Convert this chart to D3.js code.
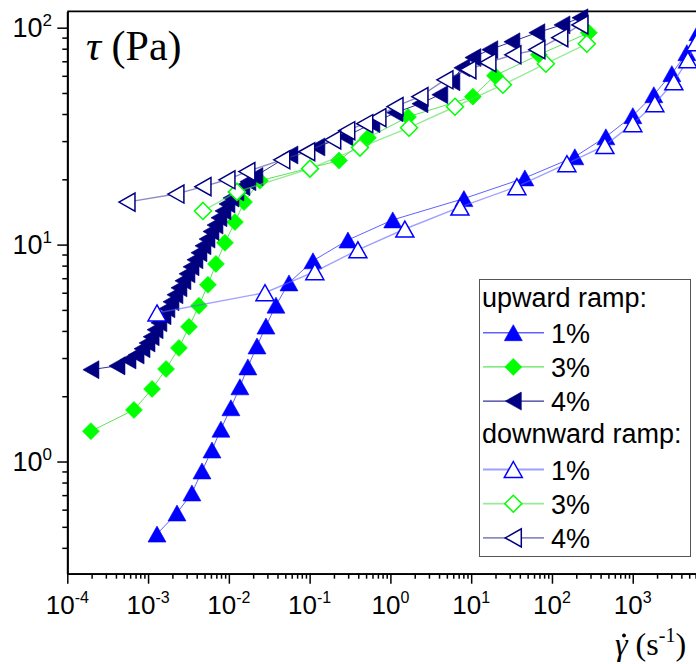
<!DOCTYPE html>
<html><head><meta charset="utf-8">
<script src="https://cdn.jsdelivr.net/npm/d3@7"></script>
<style>body{margin:0;background:#fff;}svg{display:block;}</style>
</head><body><svg id="c" width="696" height="664"></svg>
<script>
// ---------------- data ----------------
const xMajorTicks = [1e-4, 1e-3, 1e-2, 1e-1, 1, 10, 100, 1000];
const xTickExp = ["-4", "-3", "-2", "-1", "0", "1", "2", "3"];
const yMajorTicks = [1, 10, 100];
const yTickExp = ["0", "1", "2"];

const up1X = [1.29e-3, 2.28e-3, 3.49e-3, 4.65e-3, 6.18e-3, 7.98e-3, 1.06e-2, 1.37e-2, 1.72e-2, 2.23e-2, 2.88e-2, 3.83e-2, 5.55e-2, 0.110, 0.298, 1.07, 8.13, 46.2, 192, 465, 1003, 1824, 3050, 4680, 6400];
const up1Y = [0.463, 0.579, 0.716, 0.905, 1.13, 1.41, 1.77, 2.21, 2.73, 3.41, 4.21, 5.26, 6.66, 8.42, 10.5, 13.0, 16.3, 20.3, 25.4, 31.4, 39.3, 49.1, 61.4, 76.7, 94.8];

const up3X = [1.96e-4, 6.68e-4, 1.12e-3, 1.67e-3, 2.41e-3, 3.21e-3, 4.26e-3, 5.51e-3, 6.92e-3, 8.95e-3, 1.19e-2, 1.54e-2, 2.43e-2, 0.231, 0.527, 1.65, 10.5, 19.7, 68.9, 286];
const up3Y = [1.38, 1.73, 2.16, 2.67, 3.34, 4.18, 5.22, 6.53, 8.15, 10.2, 12.7, 15.7, 19.7, 24.4, 31.1, 38.8, 48.1, 60.1, 75.0, 94.8];

const up4X = [1.96e-4, 4.12e-4, 5.64e-4, 7.1e-4, 8.41e-4, 9.69e-4, 1.09e-3, 1.22e-3, 1.36e-3, 1.53e-3, 1.71e-3, 1.92e-3, 2.15e-3, 2.41e-3, 2.70e-3, 3.03e-3, 3.40e-3, 3.80e-3, 4.26e-3, 4.78e-3, 5.36e-3, 6.00e-3, 6.73e-3, 7.54e-3, 8.45e-3, 9.47e-3, 1.06e-2, 1.22e-2, 1.45e-2, 1.72e-2, 2.10e-2, 5.70e-2, 0.123, 0.273, 0.590, 1.14, 2.32, 4.09, 5.77, 7.66, 10.5, 17.0, 31.9, 65.0, 133, 222];
const up4Y = [2.65, 2.76, 2.94, 3.10, 3.31, 3.52, 3.76, 4.05, 4.36, 4.70, 5.06, 5.45, 5.87, 6.32, 6.81, 7.33, 7.90, 8.51, 9.17, 9.87, 10.6, 11.5, 12.3, 13.3, 14.3, 15.4, 16.4, 17.5, 18.5, 19.5, 20.6, 25.9, 28.2, 31.4, 36.1, 40.5, 44.6, 49.1, 56.3, 65.3, 72.8, 79.2, 86.1, 94.8, 103, 111];

const down1X = [6040, 4810, 3228, 1878, 1003, 452, 153, 36.8, 7.26, 1.51, 0.396, 0.116, 2.80e-2, 1.29e-3];
const down1Y = [85.3, 71.1, 56.3, 44.6, 36.1, 28.6, 23.6, 18.5, 14.9, 11.8, 9.46, 7.50, 6.00, 4.84];

const down3X = [270, 84.1, 24.7, 6.30, 1.70, 0.420, 0.101, 1.26e-2, 4.78e-3];
const down3Y = [84.3, 68.2, 54.6, 43.2, 34.6, 28.0, 22.4, 17.5, 14.3];

const down4X = [222, 125, 65.0, 32.8, 16.1, 9.1, 4.73, 2.32, 1.14, 0.70, 0.481, 0.288, 0.193, 0.092, 0.0452, 0.0167, 9.47e-3, 4.78e-3, 2.21e-3, 5.48e-4];
const down4Y = [103, 89.9, 79.2, 75.0, 69.0, 64.0, 57.5, 48.1, 43.3, 38.5, 36.1, 33.5, 30.4, 26.8, 24.6, 21.7, 19.9, 18.5, 17.1, 15.7];

const legendHeaders = ["upward ramp:", "downward ramp:"];
const seriesLabels = ["1%", "3%", "4%", "1%", "3%", "4%"];
const titleText = ["τ", " (Pa)"];
const xLabelText = ["γ", " (s", "-1", ")"];

// ---------------- styles ----------------
const series = [
  {x: up1X, y: up1Y, color: "#0000ff", line: "#3a3aff", lw: 1, lop: 0.8, shape: "up", open: false},
  {x: up3X, y: up3Y, color: "#00ff00", line: "#33dd33", lw: 1, lop: 0.8, shape: "diamond", open: false},
  {x: up4X, y: up4Y, color: "#000080", line: "#000080", lw: 1, lop: 0.8, shape: "left", open: false},
  {x: down1X, y: down1Y, color: "#0000ff", line: "#6060ff", lw: 1.4, lop: 0.6, shape: "up", open: true},
  {x: down3X, y: down3Y, color: "#00ff00", line: "#50e050", lw: 1.4, lop: 0.6, shape: "diamond", open: true},
  {x: down4X, y: down4Y, color: "#000080", line: "#40409a", lw: 1.4, lop: 0.6, shape: "left", open: true}
];

function shapePath(s) {
  if (s === "up") { const w = 18, h = 16; return `M0,${-h/2}L${w/2},${h/2}L${-w/2},${h/2}Z`; }
  if (s === "left") { const w = 16, h = 18; return `M${-w/2},0L${w/2},${-h/2}L${w/2},${h/2}Z`; }
  const d = 17; return `M0,${-d/2}L${d/2},0L0,${d/2}L${-d/2},0Z`;
}

const L = 67.3, R = 701, T = 11.3, B = 573.7;
const x = d3.scaleLog().domain([1e-4, 7000]).range([L, R]);
const y = d3.scaleLog().domain([0.304, 119]).range([B, T]);

const svg = d3.select("#c");
svg.append("rect").attr("width", 696).attr("height", 664).attr("fill", "#fff");

// frame
svg.append("path").attr("d", `M${L},${T}H${R}V${B}`).attr("fill", "none").attr("stroke", "#000").attr("stroke-width", 1.8);

const isMajor = v => Math.abs(Math.log10(v) - Math.round(Math.log10(v))) < 1e-9;
const xMinor = x.ticks().filter(v => !isMajor(v) && v >= 1e-4 && v <= 7000);
const yMinor = y.ticks().filter(v => !isMajor(v) && v >= 0.304 && v <= 119);

// x axis
const gx = svg.append("g").attr("transform", `translate(0,${B})`);
gx.append("g").call(d3.axisBottom(x).tickValues(xMinor).tickSize(5).tickSizeOuter(0).tickFormat(""));
gx.append("g").call(d3.axisBottom(x).tickValues(xMajorTicks).tickSize(10).tickSizeOuter(0).tickFormat(""));
gx.selectAll(".domain").attr("stroke", "#000").attr("stroke-width", 1.8);
gx.selectAll(".tick line").attr("stroke", "#000").attr("stroke-width", 1.5);

// y axis
const gy = svg.append("g").attr("transform", `translate(${L},0)`);
gy.append("g").call(d3.axisLeft(y).tickValues(yMinor).tickSize(5).tickSizeOuter(0).tickFormat(""));
gy.append("g").call(d3.axisLeft(y).tickValues(yMajorTicks).tickSize(10).tickSizeOuter(0).tickFormat(""));
gy.selectAll(".domain").attr("stroke", "#000").attr("stroke-width", 1.8);
gy.selectAll(".tick line").attr("stroke", "#000").attr("stroke-width", 1.5);

const sans = "Arial, 'Liberation Sans', sans-serif";
const serif = "'Times New Roman', 'Liberation Serif', serif";

// x tick labels
xMajorTicks.forEach((v, i) => {
  const t = svg.append("text").attr("x", x(v)).attr("y", 614).attr("text-anchor", "middle")
    .attr("font-family", sans).attr("font-size", 26).attr("fill", "#000");
  t.append("tspan").text("10");
  t.append("tspan").attr("dy", -11).attr("font-size", 16).text(xTickExp[i]);
});
// y tick labels
yMajorTicks.forEach((v, i) => {
  const t = svg.append("text").attr("x", 52).attr("y", y(v) + 9).attr("text-anchor", "end")
    .attr("font-family", sans).attr("font-size", 27).attr("fill", "#000");
  t.append("tspan").text("10");
  t.append("tspan").attr("dy", -11).attr("font-size", 17).text(yTickExp[i]);
});

// series
const line = d3.line().x(d => x(d[0])).y(d => y(d[1]));
series.forEach(s => {
  const pts = s.x.map((v, i) => [v, s.y[i]]);
  const g = svg.append("g");
  g.append("path").attr("d", line(pts)).attr("fill", "none").attr("stroke", s.line)
    .attr("stroke-width", s.lw).attr("stroke-opacity", s.lop);
  g.selectAll("path.m").data(pts).join("path").attr("class", "m")
    .attr("d", shapePath(s.shape))
    .attr("transform", d => `translate(${x(d[0])},${y(d[1])})`)
    .attr("fill", s.open ? "#fff" : s.color)
    .attr("stroke", s.color).attr("stroke-width", s.open ? 1.5 : 0.6);
});

// title
const tt = svg.append("text").attr("x", 86).attr("y", 60).attr("font-family", serif).attr("font-size", 42).attr("fill", "#000");
tt.append("tspan").attr("font-style", "italic").text(titleText[0]);
tt.append("tspan").text(titleText[1]);

// x label
const xl = svg.append("text").attr("x", 615).attr("y", 655).attr("font-family", serif).attr("font-size", 32).attr("fill", "#000");
xl.append("tspan").attr("font-style", "italic").text(xLabelText[0]);
xl.append("tspan").text(xLabelText[1]);
xl.append("tspan").attr("dy", -13).attr("font-size", 20).text(xLabelText[2]);
xl.append("tspan").attr("dy", 13).text(xLabelText[3]);
svg.append("circle").attr("cx", 624).attr("cy", 635.5).attr("r", 1.9).attr("fill", "#000");

// legend
const lg = svg.append("g");
lg.append("rect").attr("x", 479.5).attr("y", 279.5).attr("width", 211).attr("height", 277)
  .attr("fill", "#fff").attr("stroke", "#555").attr("stroke-width", 1);
const rowStep = 34.2, row0 = 298.5;
const rows = [{h: 0}, {s: 0}, {s: 1}, {s: 2}, {h: 1}, {s: 3}, {s: 4}, {s: 5}];
rows.forEach((r, i) => {
  const cy = row0 + i * rowStep;
  if (r.h !== undefined) {
    lg.append("text").attr("x", 482).attr("y", cy + 8).attr("font-family", sans).attr("font-size", 27)
      .attr("fill", "#000").text(legendHeaders[r.h]);
  } else {
    const s = series[r.s];
    lg.append("line").attr("x1", 483).attr("x2", 544).attr("y1", cy).attr("y2", cy)
      .attr("stroke", s.line).attr("stroke-width", s.lw + 0.4).attr("stroke-opacity", s.lop);
    lg.append("path").attr("d", shapePath(s.shape)).attr("transform", `translate(513.3,${cy})`)
      .attr("fill", s.open ? "#fff" : s.color).attr("stroke", s.color).attr("stroke-width", s.open ? 1.5 : 0.6);
    lg.append("text").attr("x", 551).attr("y", cy + 10).attr("font-family", sans).attr("font-size", 27)
      .attr("fill", "#000").text(seriesLabels[r.s]);
  }
});
</script></body></html>
